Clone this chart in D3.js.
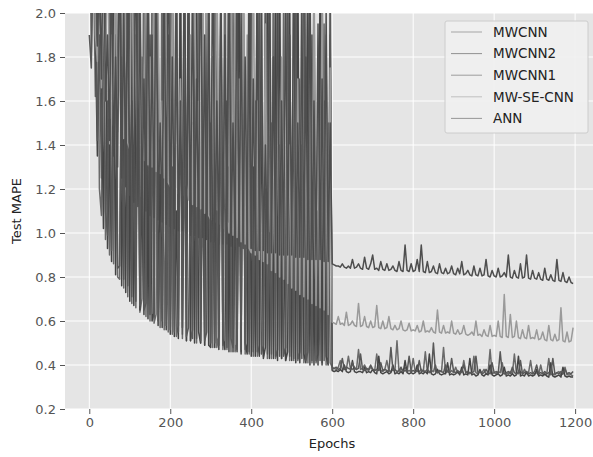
<!DOCTYPE html>
<html>
<head>
<meta charset="utf-8">
<script src="https://d3js.org/d3.v7.min.js"></script>
<style>
    body { margin: 0; background: #ffffff; }
    #root { width: 593px; height: 457px; }
    text { font-family: "DejaVu Sans", sans-serif; }
</style>
</head>
<body>
<div id="root"></div>
<script>
// x categories: one sample every 5 epochs
const epochs = d3.range(0, 1200, 5);

const seriesNames = ["MWCNN", "MWCNN2", "MWCNN1", "MW-SE-CNN", "ANN"];

const xTicks = [0, 200, 400, 600, 800, 1000, 1200];
const yTicks = [0.2, 0.4, 0.6, 0.8, 1.0, 1.2, 1.4, 1.6, 1.8, 2.0];

// values, one row = 100 epochs (above 2.0 is clipped)
const mwcnn = [
    2.6, 1.82, 2.3, 1.62, 2.5, 1.2, 1.08, 2.2, 0.97, 1.6, 0.9, 2.4, 0.86, 1.9, 0.8, 0.79, 2.1, 0.75, 2.4, 0.71,
    1.5, 0.68, 2.3, 0.66, 1.7, 0.64, 0.7, 2.5, 0.62, 1.3, 0.6, 2.2, 0.59, 0.63, 1.9, 0.57, 2.4, 0.56, 1.1, 0.55,
    2.3, 0.54, 1.6, 0.53, 0.58, 2.5, 0.52, 1.4, 0.51, 2.1, 0.51, 0.56, 1.8, 0.5, 2.4, 0.5, 1.2, 0.49, 2.2, 0.49,
    1.5, 0.48, 2.3, 0.48, 0.53, 1.9, 0.47, 2.5, 0.47, 1.3, 0.46, 2.1, 0.46, 0.5, 1.7, 0.46, 2.4, 0.45, 1.0, 0.45,
    2.2, 0.44, 1.6, 0.44, 0.49, 2.3, 0.44, 1.2, 0.43, 1.9, 0.43, 2.4, 0.43, 0.47, 1.4, 0.43, 2.1, 0.42, 1.8, 0.42,
    1.1, 0.42, 2.3, 0.42, 0.46, 1.6, 0.41, 2.0, 0.41, 1.3, 0.41, 2.2, 0.41, 0.45, 1.7, 0.41, 1.95, 0.4, 1.5, 0.41,
    0.39, 0.385, 0.38, 0.39, 0.42, 0.38, 0.385, 0.38, 0.44, 0.385, 0.38, 0.39, 0.38, 0.47, 0.38, 0.385, 0.40, 0.38, 0.375, 0.39,
    0.38, 0.375, 0.45, 0.38, 0.375, 0.37, 0.38, 0.42, 0.375, 0.37, 0.38, 0.375, 0.51, 0.37, 0.38, 0.375, 0.39, 0.37, 0.375, 0.37,
    0.43, 0.37, 0.375, 0.37, 0.38, 0.37, 0.46, 0.37, 0.365, 0.375, 0.37, 0.40, 0.365, 0.37, 0.37, 0.48, 0.365, 0.37, 0.365, 0.375,
    0.365, 0.39, 0.365, 0.37, 0.365, 0.42, 0.37, 0.365, 0.36, 0.37, 0.44, 0.365, 0.36, 0.37, 0.365, 0.38, 0.36, 0.365, 0.47, 0.36,
    0.365, 0.36, 0.37, 0.365, 0.41, 0.36, 0.365, 0.36, 0.37, 0.36, 0.45, 0.365, 0.36, 0.37, 0.36, 0.38, 0.36, 0.365, 0.42, 0.36,
    0.36, 0.365, 0.355, 0.40, 0.36, 0.355, 0.36, 0.43, 0.355, 0.36, 0.355, 0.365, 0.37, 0.355, 0.36, 0.39, 0.355, 0.36, 0.355, 0.35
];
const mwcnn2 = [
    2.4, 2.2, 2.6, 1.9, 1.35, 2.3, 1.7, 1.02, 2.5, 0.93, 1.4, 0.87, 2.2, 0.81, 1.8, 2.4, 0.76, 1.5, 0.73, 2.3,
    0.69, 2.1, 0.67, 1.6, 2.4, 0.65, 1.2, 0.63, 2.3, 0.61, 1.9, 0.6, 0.64, 2.5, 0.58, 1.4, 0.57, 2.2, 0.56, 1.7,
    0.54, 2.4, 0.53, 1.1, 0.52, 2.2, 0.57, 1.9, 0.51, 2.5, 0.51, 1.5, 0.5, 2.1, 0.55, 0.5, 1.8, 0.49, 2.3, 0.49,
    0.48, 1.4, 0.48, 2.4, 0.47, 2.0, 0.52, 0.47, 1.6, 0.46, 2.3, 0.46, 1.2, 0.46, 2.5, 0.45, 1.9, 0.5, 0.45, 2.2,
    0.44, 1.3, 0.44, 2.4, 0.44, 1.7, 0.43, 0.48, 2.2, 0.43, 1.5, 0.43, 2.0, 0.42, 2.4, 0.43, 1.1, 0.42, 0.46, 2.1,
    0.42, 1.8, 0.41, 2.3, 0.41, 1.4, 0.45, 0.41, 2.1, 0.4, 1.9, 0.4, 1.2, 0.4, 2.2, 0.4, 1.6, 0.44, 0.4, 1.9,
    0.375, 0.37, 0.375, 0.37, 0.38, 0.37, 0.40, 0.37, 0.365, 0.37, 0.42, 0.37, 0.365, 0.37, 0.37, 0.365, 0.39, 0.365, 0.37, 0.365,
    0.38, 0.365, 0.36, 0.44, 0.365, 0.36, 0.365, 0.37, 0.36, 0.365, 0.40, 0.36, 0.365, 0.36, 0.37, 0.36, 0.42, 0.365, 0.36, 0.365,
    0.36, 0.365, 0.40, 0.36, 0.365, 0.36, 0.37, 0.36, 0.45, 0.36, 0.355, 0.36, 0.38, 0.36, 0.355, 0.36, 0.36, 0.41, 0.355, 0.36,
    0.355, 0.36, 0.37, 0.355, 0.39, 0.355, 0.36, 0.355, 0.43, 0.355, 0.36, 0.35, 0.355, 0.38, 0.355, 0.35, 0.36, 0.355, 0.40, 0.355,
    0.35, 0.355, 0.36, 0.35, 0.355, 0.39, 0.35, 0.355, 0.35, 0.36, 0.35, 0.355, 0.44, 0.35, 0.355, 0.35, 0.37, 0.35, 0.355, 0.35,
    0.355, 0.38, 0.35, 0.355, 0.35, 0.36, 0.35, 0.345, 0.41, 0.35, 0.345, 0.35, 0.355, 0.345, 0.39, 0.35, 0.345, 0.35, 0.345, 0.345
];
const mwcnn1 = [
    1.9, 1.75, 2.4, 2.1, 1.42, 1.9, 1.25, 2.3, 1.1, 0.99, 2.1, 0.92, 1.6, 2.4, 0.84, 0.85, 1.8, 0.79, 2.2, 0.76,
    2.5, 0.71, 1.3, 0.69, 2.2, 0.67, 1.8, 0.65, 0.68, 2.4, 0.63, 1.5, 0.62, 2.1, 0.6, 1.0, 0.6, 2.5, 0.58, 1.9,
    0.56, 1.3, 0.55, 2.2, 0.55, 1.7, 0.54, 2.4, 0.53, 0.57, 1.2, 0.52, 2.3, 0.52, 1.6, 0.51, 2.0, 0.51, 0.55, 2.4,
    0.5, 1.8, 0.5, 1.1, 0.49, 2.2, 0.49, 1.5, 0.48, 2.4, 0.52, 0.48, 1.9, 0.47, 1.3, 0.47, 2.3, 0.47, 1.7, 0.46,
    2.5, 0.46, 1.4, 0.46, 2.0, 0.45, 0.49, 2.3, 0.45, 1.0, 0.45, 1.8, 0.44, 2.2, 0.44, 1.5, 0.44, 0.48, 2.4, 0.44,
    1.3, 0.43, 2.1, 0.43, 1.7, 0.43, 2.4, 0.42, 0.46, 1.5, 0.42, 2.0, 0.42, 1.1, 0.42, 2.3, 0.42, 1.8, 0.41, 2.2,
    0.38, 0.385, 0.39, 0.38, 0.385, 0.43, 0.38, 0.39, 0.385, 0.38, 0.41, 0.385, 0.38, 0.385, 0.45, 0.38, 0.375, 0.385, 0.38, 0.40,
    0.38, 0.375, 0.38, 0.375, 0.41, 0.375, 0.38, 0.375, 0.37, 0.48, 0.375, 0.38, 0.37, 0.375, 0.39, 0.37, 0.375, 0.37, 0.44, 0.37,
    0.375, 0.37, 0.37, 0.42, 0.37, 0.375, 0.37, 0.38, 0.37, 0.365, 0.50, 0.37, 0.365, 0.375, 0.37, 0.365, 0.40, 0.37, 0.365, 0.43,
    0.37, 0.365, 0.375, 0.365, 0.37, 0.40, 0.365, 0.37, 0.365, 0.365, 0.37, 0.44, 0.365, 0.37, 0.36, 0.365, 0.38, 0.365, 0.36, 0.41,
    0.365, 0.37, 0.36, 0.46, 0.365, 0.36, 0.365, 0.37, 0.36, 0.39, 0.365, 0.36, 0.365, 0.42, 0.36, 0.365, 0.37, 0.36, 0.365, 0.36,
    0.37, 0.40, 0.36, 0.365, 0.36, 0.37, 0.36, 0.365, 0.36, 0.43, 0.36, 0.365, 0.36, 0.37, 0.36, 0.38, 0.36, 0.365, 0.36, 0.37
];
const mwSeCnn = [
    2.3, 2.05, 2.5, 1.9, 1.78, 2.4, 1.66, 2.1, 1.6, 2.5, 1.52, 1.9, 1.49, 2.3, 1.46, 1.7, 2.4, 1.43, 2.0, 1.41,
    1.38, 2.5, 1.37, 1.9, 1.35, 2.2, 1.4, 1.33, 2.4, 1.31, 1.8, 1.3, 2.3, 1.28, 2.0, 1.27, 1.6, 1.25, 2.4, 1.23,
    1.21, 2.1, 1.2, 2.5, 1.18, 1.7, 1.17, 2.3, 1.22, 1.15, 1.9, 1.13, 2.4, 1.12, 1.6, 1.11, 2.2, 1.09, 2.5, 1.08,
    1.06, 1.8, 1.05, 2.3, 1.04, 2.0, 1.02, 1.5, 1.06, 1.0, 2.4, 0.99, 2.1, 0.98, 1.7, 0.96, 2.3, 0.95, 1.9, 0.93,
    0.91, 2.4, 0.9, 1.6, 0.88, 2.2, 0.87, 1.95, 0.86, 2.5, 0.83, 1.5, 0.82, 2.1, 0.8, 1.8, 0.79, 2.3, 0.77, 1.4,
    0.75, 2.2, 0.74, 1.7, 0.72, 2.4, 0.71, 1.5, 0.7, 2.0, 0.68, 2.3, 0.67, 1.6, 0.66, 2.1, 0.65, 1.9, 0.63, 1.75,
    0.595, 0.59, 0.585, 0.62, 0.585, 0.59, 0.58, 0.64, 0.58, 0.585, 0.6, 0.58, 0.575, 0.68, 0.575, 0.58, 0.62, 0.575, 0.57, 0.6,
    0.57, 0.575, 0.67, 0.57, 0.565, 0.6, 0.565, 0.57, 0.62, 0.565, 0.56, 0.58, 0.56, 0.565, 0.6, 0.56, 0.555, 0.56, 0.59, 0.555,
    0.56, 0.555, 0.58, 0.55, 0.555, 0.6, 0.55, 0.555, 0.55, 0.57, 0.55, 0.545, 0.65, 0.55, 0.545, 0.58, 0.545, 0.55, 0.545, 0.6,
    0.545, 0.54, 0.56, 0.54, 0.545, 0.58, 0.54, 0.535, 0.54, 0.55, 0.535, 0.6, 0.535, 0.54, 0.53, 0.56, 0.535, 0.53, 0.58, 0.53,
    0.535, 0.53, 0.6, 0.53, 0.525, 0.72, 0.53, 0.525, 0.63, 0.525, 0.53, 0.6, 0.525, 0.52, 0.56, 0.525, 0.52, 0.58, 0.52, 0.525,
    0.52, 0.56, 0.515, 0.52, 0.55, 0.515, 0.51, 0.58, 0.515, 0.51, 0.54, 0.51, 0.515, 0.66, 0.51, 0.505, 0.55, 0.505, 0.51, 0.57
];
const ann = [
    2.5, 2.3, 2.1, 2.4, 1.85, 2.2, 1.7, 2.5, 1.6, 1.9, 1.42, 2.3, 1.35, 1.8, 1.3, 2.4, 1.25, 2.0, 1.21, 2.3,
    1.17, 1.6, 1.14, 2.5, 1.12, 2.1, 1.11, 1.7, 1.1, 2.3, 1.08, 1.9, 1.07, 2.4, 1.06, 1.5, 1.05, 2.2, 1.04, 2.5,
    1.03, 1.8, 1.02, 2.3, 1.01, 1.6, 1.01, 2.4, 1.0, 2.0, 0.99, 2.2, 0.99, 1.7, 0.98, 2.5, 0.98, 1.9, 0.97, 2.1,
    0.96, 2.4, 0.96, 1.6, 0.95, 2.2, 0.95, 1.9, 0.95, 2.5, 0.94, 1.5, 0.94, 2.3, 0.94, 2.0, 0.93, 1.8, 0.93, 2.4,
    0.93, 1.7, 0.92, 2.3, 0.92, 2.0, 0.92, 1.4, 0.91, 2.4, 0.91, 1.8, 0.91, 2.2, 0.9, 1.6, 0.9, 2.1, 0.9, 1.9,
    0.9, 2.3, 0.89, 1.5, 0.89, 2.0, 0.89, 1.8, 0.88, 2.2, 0.88, 1.6, 0.88, 1.95, 0.88, 1.7, 0.87, 2.0, 0.87, 1.5,
    0.86, 0.855, 0.85, 0.85, 0.845, 0.86, 0.845, 0.84, 0.85, 0.84, 0.88, 0.84, 0.845, 0.86, 0.84, 0.835, 0.89, 0.84, 0.835, 0.86,
    0.9, 0.835, 0.84, 0.83, 0.87, 0.835, 0.83, 0.86, 0.83, 0.835, 0.85, 0.83, 0.825, 0.87, 0.83, 0.825, 0.945, 0.83, 0.825, 0.86,
    0.825, 0.83, 0.88, 0.825, 0.945, 0.825, 0.82, 0.87, 0.82, 0.825, 0.85, 0.82, 0.815, 0.86, 0.82, 0.815, 0.84, 0.815, 0.82, 0.85,
    0.815, 0.81, 0.84, 0.815, 0.87, 0.81, 0.815, 0.83, 0.81, 0.805, 0.85, 0.81, 0.805, 0.84, 0.805, 0.81, 0.88, 0.805, 0.8, 0.83,
    0.805, 0.8, 0.84, 0.8, 0.805, 0.82, 0.8, 0.9, 0.8, 0.795, 0.83, 0.8, 0.795, 0.86, 0.795, 0.8, 0.9, 0.795, 0.79, 0.83,
    0.795, 0.79, 0.82, 0.79, 0.785, 0.84, 0.79, 0.785, 0.81, 0.785, 0.78, 0.88, 0.785, 0.78, 0.82, 0.78, 0.775, 0.8, 0.775, 0.77
];

const seriesValues = [mwcnn, mwcnn2, mwcnn1, mwSeCnn, ann];
const seriesColors = ["#6a6a6a", "#444444", "#585858", "#9a9a9a", "#4e4e4e"];

const width = 593;
const height = 457;
// plot area (ggplot style, right side runs off the picture)
const plotLeft = 65, plotTop = 13, plotRight = 599, plotBottom = 409;

const svg = d3.select("#root").append("svg")
    .attr("width", width)
    .attr("height", height)
    .attr("xmlns", "http://www.w3.org/2000/svg");

const x = d3.scaleLinear().domain([-60, 1259]).range([plotLeft, plotRight]);
const y = d3.scaleLinear().domain([0.2, 2.0]).range([plotBottom, plotTop]);

svg.append("defs").append("clipPath").attr("id", "plotClip")
    .append("rect")
    .attr("x", plotLeft).attr("y", plotTop)
    .attr("width", plotRight - plotLeft).attr("height", plotBottom - plotTop);

// background
svg.append("rect")
    .attr("x", plotLeft).attr("y", plotTop)
    .attr("width", plotRight - plotLeft).attr("height", plotBottom - plotTop)
    .attr("fill", "#e5e5e5");

// grid
const grid = svg.append("g").attr("clip-path", "url(#plotClip)");
grid.selectAll("line.gx").data(xTicks).enter().append("line")
    .attr("x1", d => x(d)).attr("x2", d => x(d))
    .attr("y1", plotTop).attr("y2", plotBottom)
    .attr("stroke", "#ffffff").attr("stroke-width", 1);
grid.selectAll("line.gy").data(yTicks).enter().append("line")
    .attr("x1", plotLeft).attr("x2", plotRight)
    .attr("y1", d => y(d)).attr("y2", d => y(d))
    .attr("stroke", "#ffffff").attr("stroke-width", 1);

// lines
const line = d3.line()
    .x((d, i) => x(epochs[i]))
    .y(d => y(d));

const lines = svg.append("g").attr("clip-path", "url(#plotClip)");
seriesValues.forEach((vals, k) => {
    lines.append("path")
        .attr("d", line(vals))
        .attr("fill", "none")
        .attr("stroke", seriesColors[k])
        .attr("stroke-width", 1.5)
        .attr("stroke-linejoin", "round");
});

// axes
const xAxis = d3.axisBottom(x).tickValues(xTicks).tickSize(5).tickPadding(4).tickFormat(d3.format("d"));
const yAxis = d3.axisLeft(y).tickValues(yTicks).tickSize(5).tickPadding(4).tickFormat(d3.format(".1f"));

const gx = svg.append("g").attr("transform", `translate(0,${plotBottom})`).call(xAxis);
const gy = svg.append("g").attr("transform", `translate(${plotLeft},0)`).call(yAxis);
[gx, gy].forEach(g => {
    g.select(".domain").remove();
    g.selectAll(".tick line").attr("stroke", "#555555");
    g.selectAll(".tick text").attr("fill", "#555555").style("font-size", "13px");
});

// axis labels
svg.append("text")
    .attr("x", 332).attr("y", 448)
    .attr("text-anchor", "middle")
    .attr("fill", "#222222")
    .style("font-size", "13px")
    .text("Epochs");
svg.append("text")
    .attr("transform", `translate(21,${(plotTop + plotBottom) / 2}) rotate(-90)`)
    .attr("text-anchor", "middle")
    .attr("fill", "#222222")
    .style("font-size", "13px")
    .text("Test MAPE");

// legend
const legend = svg.append("g").attr("transform", "translate(445,21)");
legend.append("rect")
    .attr("width", 143).attr("height", 112)
    .attr("rx", 2)
    .attr("fill", "#f0f0f0").attr("fill-opacity", 0.9)
    .attr("stroke", "#cccccc").attr("stroke-width", 1);
seriesNames.forEach((name, k) => {
    const yy = 11 + k * 21.6;
    legend.append("line")
        .attr("x1", 6).attr("x2", 37)
        .attr("y1", yy).attr("y2", yy)
        .attr("stroke", seriesColors[k]).attr("stroke-width", 1)
        .attr("stroke-opacity", 0.55);
    legend.append("text")
        .attr("x", 48).attr("y", yy)
        .attr("dy", "0.35em")
        .attr("fill", "#222222")
        .style("font-size", "13.5px")
        .text(name);
});
</script>
</body>
</html>
